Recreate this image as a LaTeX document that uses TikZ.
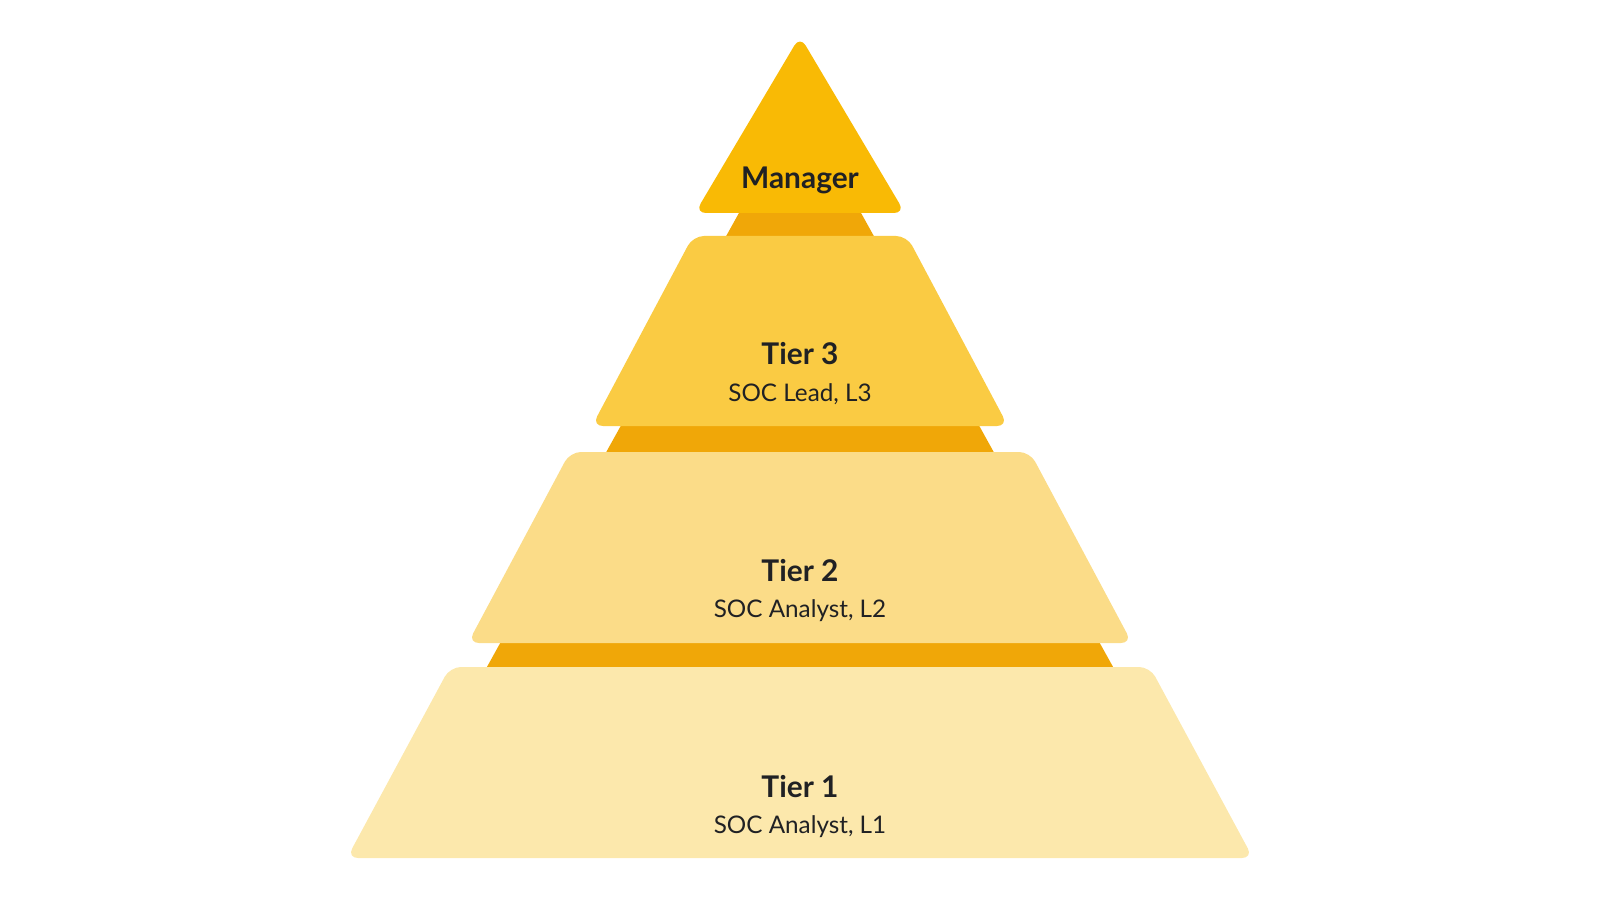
\documentclass[tikz,border=0pt]{standalone}
\usepackage{fontspec}
\setmainfont{Lato}
\usepackage{xcolor}
\usepackage{tikz}

\definecolor{mgrfill}{HTML}{F9BA05}
\definecolor{backfill}{HTML}{F0A708}
\definecolor{tierthree}{HTML}{FACB43}
\definecolor{tiertwo}{HTML}{FBDC88}
\definecolor{tierone}{HTML}{FCE8AC}
\definecolor{txt}{HTML}{202124}

\begin{document}
\begin{tikzpicture}[x=0.1mm,y=-0.1mm,
  layer/.style={rounded corners=1.1mm},
  title/.style={anchor=base,inner sep=0pt,text=txt,font=\fontsize{8.5}{10}\selectfont\bfseries},
  sub/.style={anchor=base,inner sep=0pt,text=txt,font=\fontsize{6.9}{8}\selectfont}]
  \useasboundingbox (0,0) rectangle (1600,900);
  % dark core behind the layers
  \fill[backfill] (800,103) -- (1218,856) -- (382,856) -- cycle;
  % layers
  \fill[mgrfill,layer] (800,36) -- (905,213) -- (695,213) -- cycle;
  \fill[tierthree,layer] (693,236) -- (907,236) -- (1008,426) -- (592,426) -- cycle;
  \fill[tiertwo,layer] (570,452) -- (1030,452) -- (1132,643) -- (468,643) -- cycle;
  \fill[tierone,layer] (450,667) -- (1150,667) -- (1253,858) -- (347,858) -- cycle;
  % labels
  \node[title] (mgr) at (800,189) {Manager};
  \node[title] (t3) at (800,365) {Tier 3};
  \node[sub] (t3s) at (800,401) {SOC Lead, L3};
  \node[title] (t2) at (800,581) {Tier 2};
  \node[sub] (t2s) at (800,617) {SOC Analyst, L2};
  \node[title] (t1) at (800,797) {Tier 1};
  \node[sub] (t1s) at (800,833) {SOC Analyst, L1};
\end{tikzpicture}
\end{document}
